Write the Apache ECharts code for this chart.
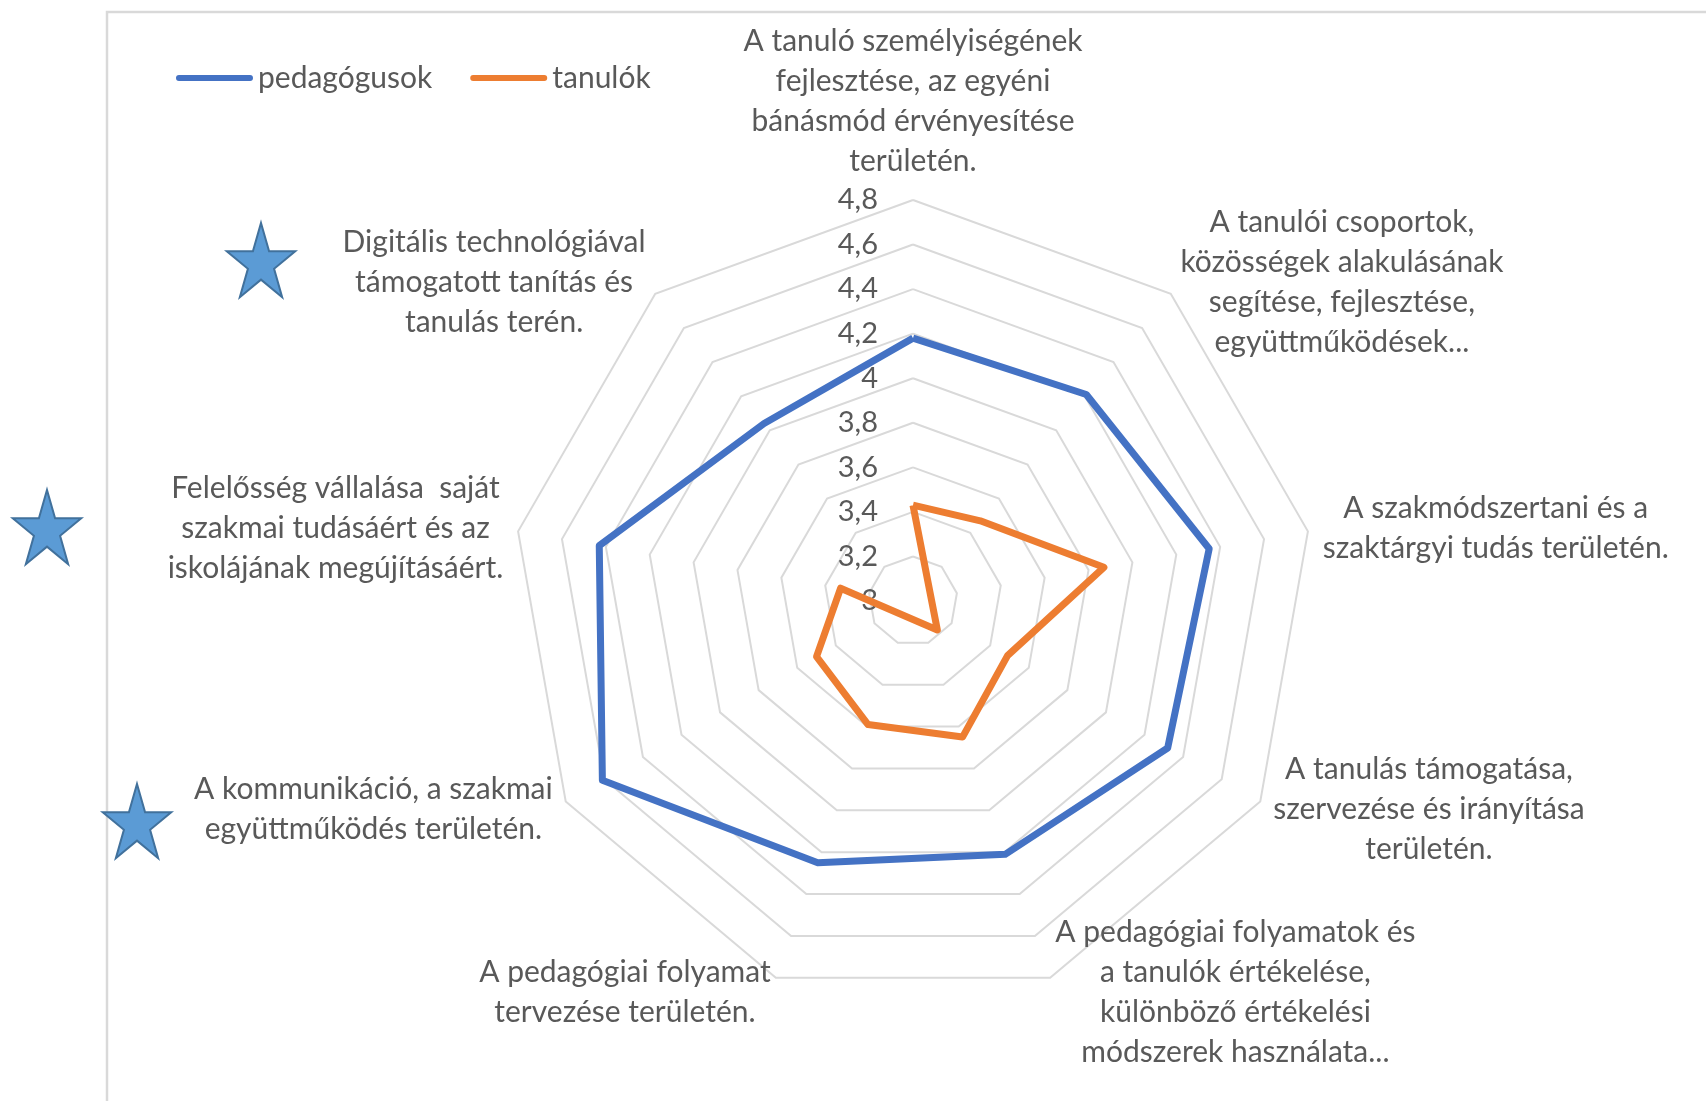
<!DOCTYPE html>
<html>
<head>
<meta charset="utf-8">
<script src="https://cdn.jsdelivr.net/npm/echarts@6/dist/echarts.min.js"></script>
<style>
  html, body { margin: 0; padding: 0; background: #fff; }
  #chart { width: 1706px; height: 1101px; }
</style>
</head>
<body>
<div id="chart"></div>
<script>
// Categories, clockwise from the top
const categories = [
  'A tanuló személyiségének\nfejlesztése, az egyéni\nbánásmód érvényesítése\nterületén.',
  'A tanulói csoportok,\nközösségek alakulásának\nsegítése, fejlesztése,\negyüttműködések...',
  'A szakmódszertani és a\nszaktárgyi tudás területén.',
  'A tanulás támogatása,\nszervezése és irányítása\nterületén.',
  'A pedagógiai folyamatok és\na tanulók értékelése,\nkülönböző értékelési\nmódszerek használata...',
  'A pedagógiai folyamat\ntervezése területén.',
  'A kommunikáció, a szakmai\negyüttműködés területén.',
  'Felelősség vállalása  saját\nszakmai tudásáért és az\niskolájának megújításáért.',
  'Digitális technológiával\ntámogatott tanítás és\ntanulás terén.'
];
const seriesNames = ['pedagógusok', 'tanulók'];
const pedagogusok = [4.18, 4.21, 4.35, 4.32, 4.21, 4.25, 4.61, 4.43, 4.04];
const tanulok     = [3.43, 3.47, 3.87, 3.49, 3.65, 3.59, 3.50, 3.33, 2.83];
const axisMin = 3;
const axisMax = 4.8;
const axisSplits = 9;

// ECharts lays radar indicators counter-clockwise; reorder to get clockwise
const order = categories.map((_, i) => (i === 0 ? 0 : categories.length - i));
const reorder = arr => order.map(i => arr[i]);

const TXT = '#595959';
const FONT = 'Lato';
const FS = 30;

function starPoints(cx, cy, rx, ry) {
  const pts = [];
  for (let k = 0; k < 10; k++) {
    const a = -Math.PI / 2 + k * Math.PI / 5;
    const f = k % 2 === 0 ? 1 : 0.382;
    pts.push([cx + rx * f * Math.cos(a), cy + ry * f * Math.sin(a)]);
  }
  return pts;
}
function star(cx, cy) {
  return {
    type: 'polygon',
    shape: { points: starPoints(cx, cy, 36, 41) },
    style: { fill: '#5B9BD5', stroke: '#41719C', lineWidth: 2 },
    z: 10
  };
}

const indicator = reorder(categories).map((name, i) => {
  const ind = { name: name, min: axisMin, max: axisMax };
  if (i === 0) { ind.axisLabel = { show: true }; ind.nameGap = 19; }
  return ind;
});

const chart = echarts.init(document.getElementById('chart'), null, { renderer: 'canvas' });
chart.setOption({
  animation: false,
  backgroundColor: '#ffffff',
  textStyle: { fontFamily: FONT },
  legend: {
    data: seriesNames,
    left: 171,
    top: 58,
    itemWidth: 77,
    itemHeight: 7,
    itemGap: 38,
    icon: 'path://M3,0 L75,0 A3,3 0 0 1 75,6 L3,6 A3,3 0 0 1 3,0 Z',
    textStyle: { color: TXT, fontSize: FS, fontFamily: FONT }
  },
  radar: {
    center: [913, 601],
    radius: 401,
    startAngle: 90,
    shape: 'polygon',
    splitNumber: axisSplits,
    nameGap: 15,
    axisName: {
      color: TXT,
      fontSize: FS,
      fontFamily: FONT,
      lineHeight: 40,
      formatter: name => name.split('\n').map(l => '{c|' + l + '}').join('\n'),
      rich: { c: { align: 'center', color: TXT, fontSize: FS, fontFamily: FONT, lineHeight: 40 } }
    },
    axisLine: { show: false },
    axisTick: { show: false },
    axisLabel: {
      show: false,
      color: TXT,
      fontSize: 29,
      fontFamily: FONT,
      margin: 35,
      formatter: v => String(+(+v).toFixed(1)).replace('.', ',')
    },
    splitLine: { lineStyle: { color: '#D9D9D9', width: 2 } },
    splitArea: { show: false },
    indicator: indicator
  },
  series: [{
    type: 'radar',
    symbol: 'none',
    data: [
      { name: seriesNames[0], value: reorder(pedagogusok),
        lineStyle: { color: '#4472C4', width: 7 }, itemStyle: { color: '#4472C4' } },
      { name: seriesNames[1], value: reorder(tanulok),
        lineStyle: { color: '#ED7D31', width: 7 }, itemStyle: { color: '#ED7D31' } }
    ]
  }],
  graphic: [
    { type: 'rect', shape: { x: 107, y: 12, width: 1800, height: 1300 },
      style: { fill: 'none', stroke: '#D9D9D9', lineWidth: 2.5 }, z: 0 },
    star(261, 264),
    star(47, 531),
    star(137, 825)
  ]
});
</script>
</body>
</html>
